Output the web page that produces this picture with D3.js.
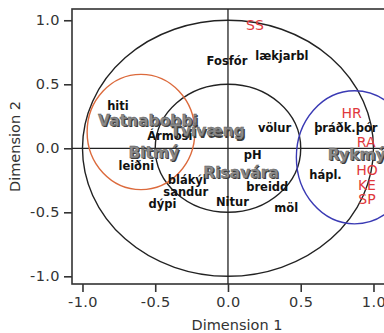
<!DOCTYPE html>
<html>
<head>
<meta charset="utf-8">
<script src="https://cdn.jsdelivr.net/npm/d3@7"></script>
<style>
  html, body { margin: 0; padding: 0; background: #fff; }
  svg { display: block; font-family: "DejaVu Sans", Verdana, sans-serif; }
</style>
</head>
<body>
<div class="chart"></div>
<script>
// label data (dimension 1, dimension 2)
var blackNames = ["Fosfór", "lækjarbl", "hiti", "Ármosi", "leiðni", "blákýl", "sandur", "dýpi",
  "Nitur", "pH", "breidd", "möl", "völur", "þráðk.þór", "hápl."];
var blackX = [-0.007, 0.37, -0.756, -0.40, -0.63, -0.28, -0.29, -0.45, 0.03, 0.17, 0.27, 0.40, 0.32, 0.81, 0.67];
var blackY = [0.68, 0.72, 0.33, 0.10, -0.14, -0.25, -0.34, -0.435, -0.42, -0.05, -0.30, -0.47, 0.16, 0.16, -0.21];

var taxaNames = ["Vatnabobbi", "Tvívæng", "Bitmý", "Risavára", "Rykmý"];
var taxaX = [-0.55, -0.14, -0.51, 0.09, 0.885];
var taxaY = [0.22, 0.135, -0.03, -0.19, -0.05];

var siteNames = ["SS", "HR", "RA", "HO", "KE", "SP"];
var siteX = [0.185, 0.85, 0.95, 0.955, 0.955, 0.955];
var siteY = [0.96, 0.275, 0.05, -0.17, -0.285, -0.40];

// circles: cx, cy, rx, ry (data units)
var circleNames = ["outer", "inner", "orange", "blue"];
var circleCx = [0, 0, -0.598, 0.87];
var circleCy = [0, 0, 0.127, -0.07];
var circleRx = [1, 0.5, 0.37, 0.40];
var circleRy = [1, 0.5, 0.45, 0.52];
var circleColors = ["#222", "#222", "#dc6a3c", "#3a3ab4"];

var tickValues = [-1, -0.5, 0, 0.5, 1];

var width = 384, height = 333;
// NB: "top" is taken by window.top, so prefix these
var plotLeft = 72, plotRight = 402, plotTop = 9, plotBottom = 284;

var svg = d3.select(".chart").append("svg")
  .attr("width", width)
  .attr("height", height);

var x = d3.scaleLinear().domain([-1.072, 1.196]).range([plotLeft, plotRight]);
var y = d3.scaleLinear().domain([1.088, -1.06]).range([plotTop, plotBottom]);

function fmt(d) {
  return d3.format(".1f")(d).replace("\u2212", "-");
}

// frame
svg.append("rect")
  .attr("x", plotLeft)
  .attr("y", plotTop)
  .attr("width", plotRight - plotLeft)
  .attr("height", plotBottom - plotTop)
  .attr("fill", "none")
  .attr("stroke", "#333")
  .attr("stroke-width", 1.6);

// zero lines
svg.append("line")
  .attr("x1", plotLeft).attr("x2", plotRight)
  .attr("y1", y(0)).attr("y2", y(0))
  .attr("stroke", "#222").attr("stroke-width", 1.3);
svg.append("line")
  .attr("x1", x(0)).attr("x2", x(0))
  .attr("y1", plotTop).attr("y2", plotBottom)
  .attr("stroke", "#222").attr("stroke-width", 1.3);

// axes
var xAxis = svg.append("g")
  .attr("transform", "translate(0," + plotBottom + ")")
  .call(d3.axisBottom(x).tickValues(tickValues).tickFormat(fmt).tickSize(8).tickPadding(5));
var yAxis = svg.append("g")
  .attr("transform", "translate(" + plotLeft + ",0)")
  .call(d3.axisLeft(y).tickValues(tickValues).tickFormat(fmt).tickSize(8).tickPadding(4));

[xAxis, yAxis].forEach(function(ax) {
  ax.select(".domain").remove();
  ax.selectAll(".tick line").attr("stroke", "#333").attr("stroke-width", 1.6);
  ax.selectAll(".tick text")
    .attr("fill", "#333")
    .style("font-family", "DejaVu Sans, Verdana, sans-serif")
    .style("font-size", "14.5px")
    .style("letter-spacing", "0.4px");
});

svg.append("text")
  .attr("x", (plotLeft + plotRight) / 2)
  .attr("y", 330)
  .attr("text-anchor", "middle")
  .attr("fill", "#333")
  .style("font-size", "14.5px")
  .text("Dimension 1");

svg.append("text")
  .attr("transform", "translate(20," + ((plotTop + plotBottom) / 2) + ") rotate(-90)")
  .attr("text-anchor", "middle")
  .attr("fill", "#333")
  .style("font-size", "14.5px")
  .text("Dimension 2");

// circles
svg.selectAll(".circ")
  .data(circleNames)
  .enter().append("ellipse")
  .attr("class", "circ")
  .attr("cx", function(d, i) { return x(circleCx[i]); })
  .attr("cy", function(d, i) { return y(circleCy[i]); })
  .attr("rx", function(d, i) { return x(circleRx[i]) - x(0); })
  .attr("ry", function(d, i) { return y(0) - y(circleRy[i]); })
  .attr("fill", "none")
  .attr("stroke", function(d, i) { return circleColors[i]; })
  .attr("stroke-width", 1.4);

// black variable labels
svg.selectAll(".var")
  .data(blackNames)
  .enter().append("text")
  .attr("class", "var")
  .attr("x", function(d, i) { return x(blackX[i]); })
  .attr("y", function(d, i) { return y(blackY[i]); })
  .attr("dy", "0.35em")
  .attr("text-anchor", "middle")
  .attr("fill", "#111")
  .style("font-size", "11.5px")
  .style("font-weight", "bold")
  .text(function(d) { return d; });

// taxa - grey with a dark shadow, drawn twice
var taxa = svg.selectAll(".taxa")
  .data(taxaNames)
  .enter().append("g")
  .attr("class", "taxa")
  .attr("transform", function(d, i) { return "translate(" + x(taxaX[i]) + "," + y(taxaY[i]) + ")"; });

taxa.append("text")
  .attr("x", 1.2).attr("y", 1.2)
  .attr("dy", "0.35em")
  .attr("text-anchor", "middle")
  .attr("fill", "#3a3a3a")
  .style("font-size", "15.5px")
  .style("font-weight", "bold")
  .text(function(d) { return d; });

taxa.append("text")
  .attr("dy", "0.35em")
  .attr("text-anchor", "middle")
  .attr("fill", "#8a8a8a")
  .attr("stroke", "#555")
  .attr("stroke-width", 0.4)
  .style("font-size", "15.5px")
  .style("font-weight", "bold")
  .text(function(d) { return d; });

// site codes in red
svg.selectAll(".site")
  .data(siteNames)
  .enter().append("text")
  .attr("class", "site")
  .attr("x", function(d, i) { return x(siteX[i]); })
  .attr("y", function(d, i) { return y(siteY[i]); })
  .attr("dy", "0.35em")
  .attr("text-anchor", "middle")
  .attr("fill", "#e0383c")
  .style("font-size", "14px")
  .text(function(d) { return d; });
</script>
</body>
</html>
